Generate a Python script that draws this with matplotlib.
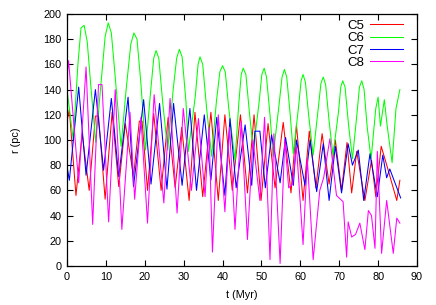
import matplotlib
matplotlib.use("Agg")
import matplotlib.pyplot as plt

# C5 (red)
t_c5 = [0, 0.6, 2.3, 3.9, 5.7, 7.3, 8.1, 9.8, 11.6, 13.3, 15.0, 17.1, 18.6, 19.3,
        20.7, 22.3, 24.2, 26.0, 27.8, 29.5, 31.4, 32.9, 34.9, 37.0, 38.9, 40.6,
        42.5, 44.6, 46.4, 48.1, 49.9, 51.7, 53.5, 55.6, 57.6, 59.0, 60.7, 62.3,
        64.0, 65.6, 67.4, 69.0, 70.6, 72.0, 73.2, 74.5, 76.6, 78.3, 79.4, 80.8,
        82.6, 84.8, 85.6]
r_c5 = [115, 124, 56, 105, 60, 119, 119, 53, 122, 63, 113, 71, 115, 115,
        60, 121, 60, 118, 62, 110, 52, 122, 55, 122, 52, 120,
        60, 120, 58, 120, 52, 113, 62, 114, 58, 112, 52, 107,
        62, 105, 65, 100, 60, 98, 58, 91, 52, 84, 55, 95,
        76, 52, 68]

# C6 (green)
t_c6 = [0, 1.6, 2.8, 3.6, 4.4, 5.2, 6.2, 7.4, 8.6, 9.8, 10.6, 11.4, 12.4, 13.9,
        15.2, 16.4, 17.2, 18.0, 19.0, 20.2, 21.4, 22.3, 22.9, 23.6, 24.6, 25.9,
        27.3, 28.2, 28.9, 29.6, 30.6, 31.2, 33.0, 33.7, 34.2, 34.9, 35.9, 37.2,
        38.4, 39.3, 40.0, 40.7, 41.6, 43.2, 44.2, 44.8, 45.3, 46.0, 46.9, 47.9,
        49.4, 50.1, 50.7, 51.3, 52.2, 53.0, 54.6, 55.3, 55.9, 56.5, 57.4, 58.2,
        59.6, 60.2, 60.7, 61.3, 62.2, 63.3, 64.6, 65.3, 65.9, 66.5, 67.4, 68.4,
        69.8, 70.4, 70.9, 71.5, 72.4, 73.4, 74.6, 75.2, 75.8, 76.4, 77.2, 78.2,
        79.4, 80.0, 80.6, 81.6, 82.3, 83.6, 84.6, 85.6]
r_c6 = [140, 100, 160, 189, 191, 178, 140, 98, 140, 182, 193, 185, 150, 95,
        140, 176, 185, 180, 145, 92, 135, 165, 171, 165, 130, 92,
        140, 165, 172, 166, 130, 91, 135, 160, 166, 160, 125, 87,
        130, 154, 159, 154, 125, 84, 130, 152, 157, 152, 122, 92,
        130, 152, 157, 150, 120, 87, 130, 150, 156, 150, 120, 89,
        128, 147, 152, 146, 118, 88, 125, 145, 150, 144, 115, 88,
        122, 142, 147, 142, 112, 85, 122, 142, 147, 140, 110, 85,
        125, 134, 111, 132, 112, 82, 125, 140]

# C7 (blue)
t_c7 = [0, 0.6, 3.0, 4.9, 7.3, 9.4, 11.4, 13.3, 15.7, 17.1, 19.7, 21.6, 23.8,
        25.7, 27.4, 29.6, 31.6, 33.3, 35.3, 37.0, 38.5, 40.6, 41.9, 43.5, 45.8,
        47.5, 48.3, 49.6, 51.0, 52.6, 54.8, 56.2, 58.2, 59.0, 61.2, 62.5, 64.2,
        65.9, 67.4, 69.0, 70.6, 72.3, 73.4, 74.9, 76.3, 77.9, 79.8, 81.2, 82.2,
        83.0, 85.8]
r_c7 = [79, 68, 142, 72, 140, 76, 133, 71, 134, 63, 132, 65, 129,
        61, 129, 64, 125, 60, 120, 68, 118, 56, 117, 62, 112,
        64, 107, 107, 62, 104, 66, 102, 64, 100, 64, 100, 59,
        97, 52, 95, 58, 97, 80, 92, 52, 89, 55, 88, 70,
        77, 54]

# C8 (magenta)
t_c8 = [0, 0.4, 3.0, 4.9, 6.6, 8.1, 9.0, 10.7, 12.4, 14.1, 16.2, 17.4, 19.0,
        20.7, 22.4, 24.9, 26.5, 28.3, 29.9, 32.0, 33.8, 35.5, 36.5, 37.4, 38.9,
        40.6, 41.8, 43.2, 44.8, 46.4, 47.8, 49.6, 50.8, 52.2, 53.2, 54.8, 56.0,
        57.0, 58.0, 59.0, 60.7, 61.8, 63.3, 65.0, 66.0, 67.6, 69.3, 71.0, 71.9,
        72.3, 73.2, 74.2, 75.3, 76.6, 77.5, 78.3, 79.2, 79.8, 80.9, 82.2, 83.9,
        84.8, 85.6]
r_c8 = [150, 163, 66, 158, 33, 144, 144, 35, 140, 29, 122, 53, 118,
        34, 136, 50, 133, 42, 125, 60, 117, 55, 110, 11, 120,
        43, 110, 29, 115, 21, 100, 52, 118, 5, 105, 2, 100,
        62, 65, 95, 17, 85, 5, 60, 70, 101, 56, 51, 7,
        35, 23, 25, 34, 13, 44, 40, 14, 91, 10, 52, 10,
        38, 34]

plt.rcParams['font.family'] = ['Liberation Sans', 'DejaVu Sans']

fig = plt.figure(figsize=(4.36, 3.05), dpi=100)
ax = fig.add_axes([0.1537, 0.128, 0.8027, 0.826])

lw = 0.75
ax.plot(t_c5, r_c5, color='#ff0000', lw=lw, label='C5')
ax.plot(t_c6, r_c6, color='#00ff00', lw=lw, label='C6')
ax.plot(t_c7, r_c7, color='#0000ff', lw=lw, label='C7')
ax.plot(t_c8, r_c8, color='#ff00ff', lw=lw, label='C8')

ax.set_xlim(0, 90)
ax.set_ylim(0, 200)
ax.set_xticks(range(0, 91, 10))
ax.set_yticks(range(0, 201, 20))
ax.tick_params(direction='in', top=True, right=True, length=4, width=0.8,
               labelsize=7.8, pad=4)
for s in ax.spines.values():
    s.set_linewidth(0.9)

ax.set_xlabel('t (Myr)', fontsize=7.8, labelpad=6)
ax.set_ylabel('r (pc)', fontsize=7.8, labelpad=16)

ax.legend(loc='upper right', bbox_to_anchor=(0.96, 0.977), frameon=False,
          markerfirst=False, fontsize=9.5, handlelength=2.5, handletextpad=0.4,
          labelspacing=0.0, borderpad=0, borderaxespad=0)

fig.savefig('out.png', dpi=100)
